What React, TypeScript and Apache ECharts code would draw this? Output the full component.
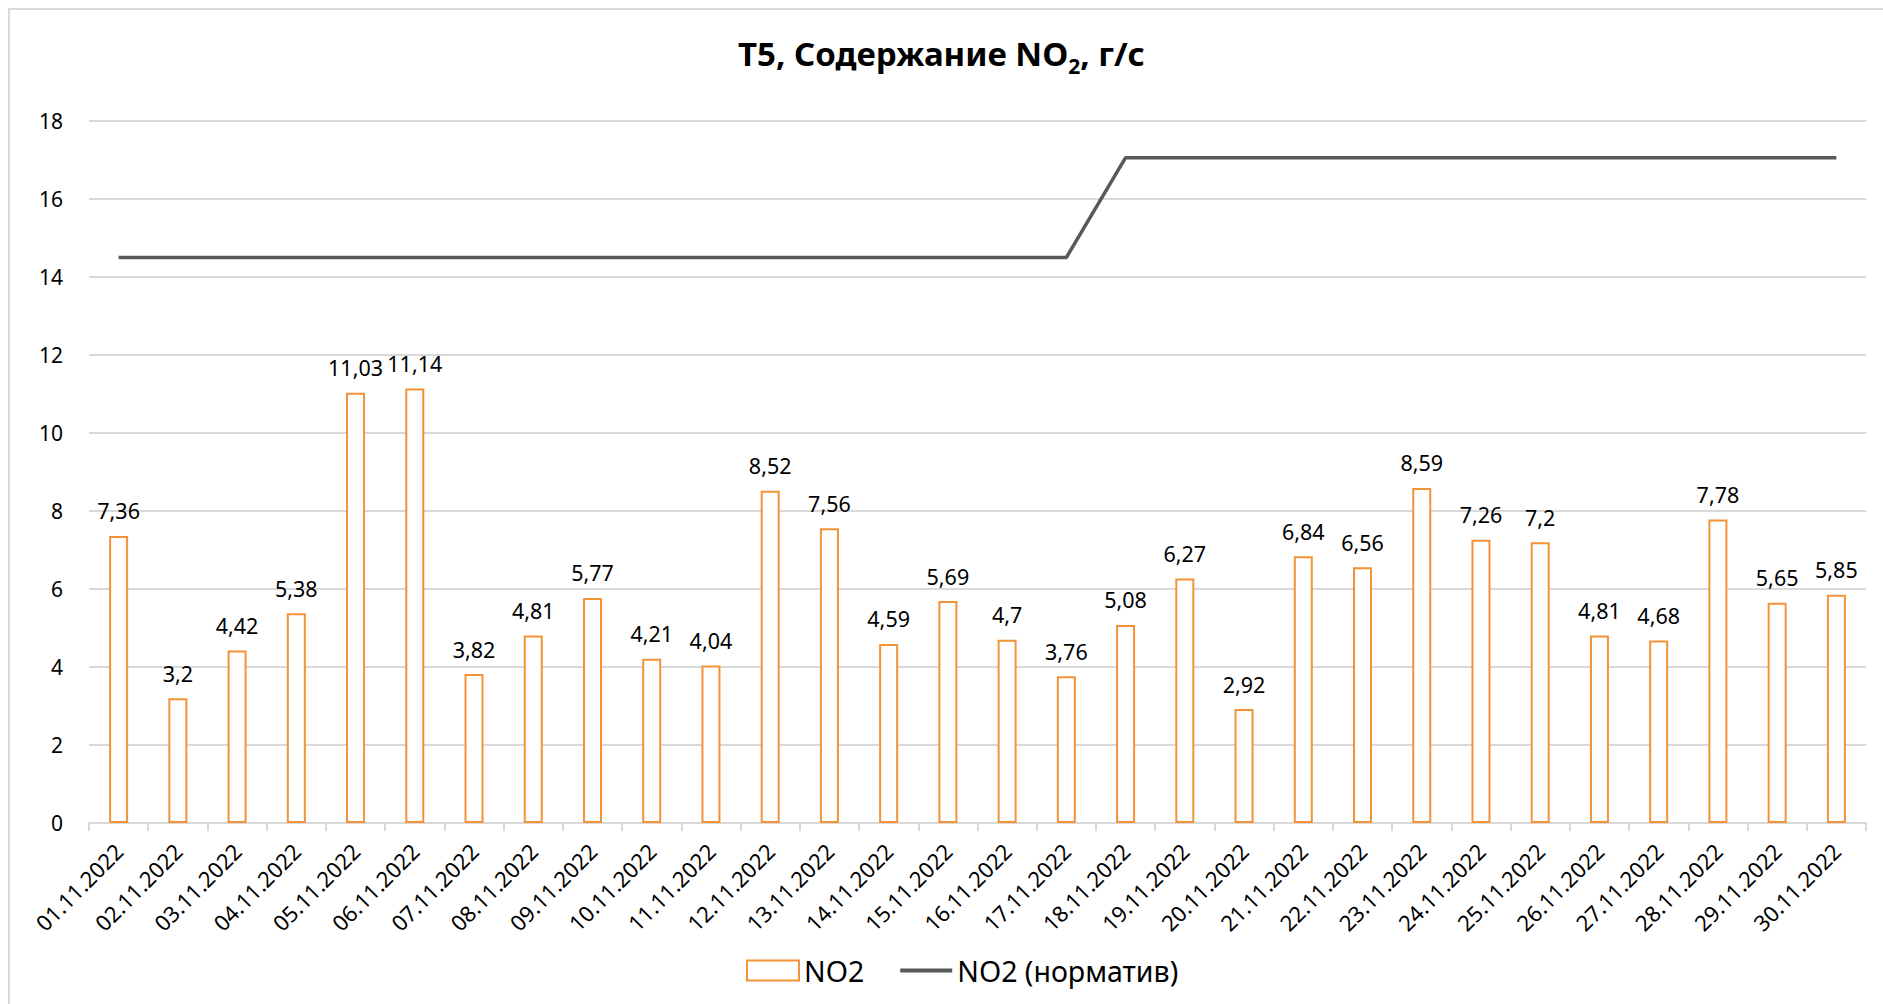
import React, { useEffect, useRef } from "react";
import * as echarts from "echarts";

const categories = [
  "01.11.2022", "02.11.2022", "03.11.2022", "04.11.2022", "05.11.2022",
  "06.11.2022", "07.11.2022", "08.11.2022", "09.11.2022", "10.11.2022",
  "11.11.2022", "12.11.2022", "13.11.2022", "14.11.2022", "15.11.2022",
  "16.11.2022", "17.11.2022", "18.11.2022", "19.11.2022", "20.11.2022",
  "21.11.2022", "22.11.2022", "23.11.2022", "24.11.2022", "25.11.2022",
  "26.11.2022", "27.11.2022", "28.11.2022", "29.11.2022", "30.11.2022",
];

const no2Values = [
  7.36, 3.2, 4.42, 5.38, 11.03, 11.14, 3.82, 4.81, 5.77, 4.21,
  4.04, 8.52, 7.56, 4.59, 5.69, 4.7, 3.76, 5.08, 6.27, 2.92,
  6.84, 6.56, 8.59, 7.26, 7.2, 4.81, 4.68, 7.78, 5.65, 5.85,
];

const no2Norm = [
  14.5, 14.5, 14.5, 14.5, 14.5, 14.5, 14.5, 14.5, 14.5, 14.5,
  14.5, 14.5, 14.5, 14.5, 14.5, 14.5, 14.5, 17.06, 17.06, 17.06,
  17.06, 17.06, 17.06, 17.06, 17.06, 17.06, 17.06, 17.06, 17.06, 17.06,
];

const yTicks = { min: 0, max: 18, interval: 2 };
const seriesNames = ["NO2", "NO2 (норматив)"];

const FONT = "'Noto Sans', sans-serif";
const ORANGE = "#F39237";
const GREY_LINE = "#595959";
const GRID_COLOR = "#D9D9D9";

export default function App() {
  const ref = useRef<HTMLDivElement>(null);

  useEffect(() => {
    if (!ref.current) return;
    const chart = echarts.init(ref.current, null, { renderer: "svg" });
    chart.setOption({
      animation: false,
      backgroundColor: "#ffffff",
      textStyle: { fontFamily: FONT, color: "#000" },
      title: {
        text: "{m|T5, Содержание NO}{s|2}{m|, г/с}",
        left: "center",
        top: 25,
        textStyle: {
          rich: {
            m: { fontFamily: FONT, fontWeight: "bold", fontSize: 33, lineHeight: 46, color: "#000" },
            s: { fontFamily: FONT, fontWeight: "bold", fontSize: 21, lineHeight: 22, verticalAlign: "bottom", color: "#000" },
          },
        },
      },
      graphic: [
        { type: "line", shape: { x1: 9, y1: 8, x2: 9, y2: 1004 }, style: { stroke: GRID_COLOR, lineWidth: 2 } },
        { type: "line", shape: { x1: 8, y1: 9, x2: 1883, y2: 9 }, style: { stroke: GRID_COLOR, lineWidth: 2 } },
      ],
      legend: {
        bottom: 14,
        left: 741,
        itemWidth: 52,
        itemHeight: 20,
        itemGap: 36,
        textStyle: { fontFamily: FONT, fontSize: 28.5, color: "#000" },
        data: [
          { name: seriesNames[0], icon: "rect", itemStyle: { color: "#fff", borderColor: ORANGE, borderWidth: 2 } },
          { name: seriesNames[1], icon: "path://M0,0 L52,0 L52,4 L0,4 Z", itemStyle: { color: GREY_LINE, borderWidth: 0 } },
        ],
      },
      grid: { left: 89, right: 17, top: 121, bottom: 181 },
      xAxis: {
        type: "category",
        data: categories,
        boundaryGap: true,
        axisLine: { lineStyle: { color: GRID_COLOR, width: 2 } },
        axisTick: { show: true, length: 8, lineStyle: { color: GRID_COLOR, width: 2 } },
        axisLabel: { rotate: 45, margin: 24, fontFamily: FONT, fontSize: 22, color: "#000", interval: 0 },
      },
      yAxis: {
        type: "value",
        min: yTicks.min,
        max: yTicks.max,
        interval: yTicks.interval,
        axisLine: { show: false },
        axisTick: { show: false },
        splitLine: { lineStyle: { color: GRID_COLOR, width: 2 } },
        axisLabel: { margin: 26, fontFamily: FONT, fontSize: 21, color: "#000" },
      },
      series: [
        {
          name: seriesNames[0],
          type: "bar",
          data: no2Values,
          barWidth: 19,
          itemStyle: { color: "#fff", borderColor: ORANGE, borderWidth: 2 },
          label: {
            show: true,
            position: "top",
            distance: 14,
            fontFamily: FONT,
            fontSize: 21.5,
            color: "#000",
            formatter: (p: any) => String(p.value).replace(".", ","),
          },
          z: 2,
        },
        {
          name: seriesNames[1],
          type: "line",
          data: no2Norm,
          symbol: "none",
          lineStyle: { color: GREY_LINE, width: 3.5 },
          itemStyle: { color: GREY_LINE },
          z: 3,
        },
      ],
    });
    return () => chart.dispose();
  }, []);

  return (
    <div
      ref={ref}
      style={{ position: "fixed", left: 0, top: 0, width: 1883, height: 1004 }}
    />
  );
}
